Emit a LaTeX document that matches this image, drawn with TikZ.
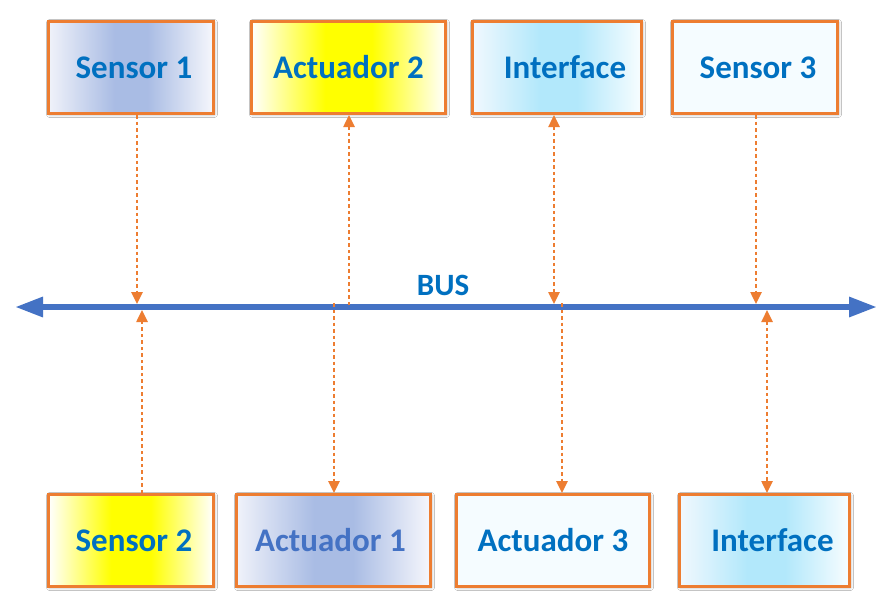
\documentclass[tikz,border=0pt]{standalone}
\usepackage{fontspec}
\setmainfont{Carlito}
\usetikzlibrary{arrows.meta,shadows.blur}

\definecolor{boxorange}{HTML}{ED7D31}
\definecolor{textblue}{HTML}{0070C0}
\definecolor{busblue}{HTML}{4472C4}
\definecolor{lavmid}{HTML}{A9BCE4}
\definecolor{lavedge}{HTML}{F0F2FA}
\definecolor{lavright}{HTML}{F6F7FC}
\definecolor{cyanmid}{HTML}{B2E8FB}
\definecolor{cyanedge}{HTML}{F1F8FE}
\definecolor{cyanright}{HTML}{F8FDFF}
\definecolor{paleblue}{HTML}{F5FCFF}
\definecolor{yelmid}{HTML}{FFFF00}

% horizontal fills with a broad coloured band in the middle;
% a node's box spans the central part of the shading, from 25bp to 75bp
\pgfdeclarehorizontalshading{lavband}{100bp}{color(0bp)=(lavedge); color(25bp)=(lavedge);
  color(45bp)=(lavmid); color(55bp)=(lavmid); color(75bp)=(lavright); color(100bp)=(lavright)}
\pgfdeclarehorizontalshading{yelband}{100bp}{color(0bp)=(white); color(25bp)=(white);
  color(44bp)=(yelmid); color(56bp)=(yelmid); color(75bp)=(white); color(100bp)=(white)}
\pgfdeclarehorizontalshading{cyanband}{100bp}{color(0bp)=(cyanedge); color(25bp)=(cyanedge);
  color(45bp)=(cyanmid); color(56bp)=(cyanmid); color(75bp)=(cyanright); color(100bp)=(cyanright)}

\tikzset{
  unit/.style={draw=boxorange, line width=3pt, minimum height=92pt,
    inner sep=0pt, text=textblue,
    font=\fontsize{33}{40}\selectfont\bfseries,
    blur shadow={shadow xshift=1pt, shadow yshift=-1pt, shadow blur steps=6,
      shadow blur radius=3pt, shadow opacity=35}},
  lavfill/.style={shading=lavband, shading angle=0},
  yelfill/.style={shading=yelband, shading angle=0},
  cyanfill/.style={shading=cyanband, shading angle=0},
  palefill/.style={fill=paleblue},
  link/.style={draw=boxorange, line width=2.5pt, dash pattern=on 3.5pt off 3pt},
  tip/.style={-{Triangle[length=12pt,width=11pt]}},
  twotip/.style={{Triangle[length=12pt,width=11pt]}-{Triangle[length=12pt,width=11pt]}},
  bus/.style={draw=busblue, line width=6pt,
    {Triangle[length=28pt,width=19pt]}-{Triangle[length=28pt,width=19pt]}},
  buslabel/.style={fill=white, inner sep=0pt, minimum width=98pt, minimum height=36pt,
    text=textblue, font=\fontsize{31}{36}\selectfont\bfseries}
}

\begin{document}
\begin{tikzpicture}[x=1pt,y=-1pt]
  \fill[white] (0,0) rectangle (882,603);
  \useasboundingbox (0,0) rectangle (882,603);

  % the shared bus
  \coordinate (busL) at (15,307);
  \coordinate (busR) at (877,307);
  \draw[bus] (busL) -- (busR);
  \node[buslabel] (buslab) at (443,285) {BUS};

  % devices above the bus
  \node[unit, lavfill, minimum width=165pt] (s1) at (131,67.5) {\hspace*{6pt}Sensor 1};
  \node[unit, yelfill, minimum width=194pt] (a2) at (348.5,67.5) {Actuador 2};
  \node[unit, cyanfill, minimum width=169pt] (if1) at (557,67.5) {\hspace*{16pt}Interface};
  \node[unit, palefill, minimum width=165pt] (s3) at (755,67.5) {\hspace*{6pt}Sensor 3};

  % devices below the bus
  \node[unit, yelfill, minimum width=165pt] (s2) at (131,540.5) {\hspace*{6pt}Sensor 2};
  \node[unit, lavfill, minimum width=194pt, text=busblue] (a1) at (333.5,540.5)
    {\hspace*{-6pt}Actuador 1};
  \node[unit, palefill, minimum width=193pt] (a3) at (553,540.5) {Actuador 3};
  \node[unit, cyanfill, minimum width=170pt] (if2) at (764.5,540.5) {\hspace*{16pt}Interface};

  % attachment points on the bus
  \coordinate (p1) at (137,304);
  \coordinate (p2) at (142,310);
  \coordinate (p3) at (349,305);
  \coordinate (p4) at (334,303);
  \coordinate (p5) at (554,304);
  \coordinate (p6) at (562,303);
  \coordinate (p7) at (756,304);
  \coordinate (p8) at (767,310);

  % links between devices and the bus
  \draw[link, tip] (s1.south -| p1) -- (p1);
  \draw[link, tip] (s2.north -| p2) -- (p2);
  \draw[link, tip] (p3) -- (a2.south -| p3);
  \draw[link, tip] (p4) -- (a1.north -| p4);
  \draw[link, twotip] (if1.south -| p5) -- (p5);
  \draw[link, tip] (p6) -- (a3.north -| p6);
  \draw[link, tip] (s3.south -| p7) -- (p7);
  \draw[link, twotip] (p8) -- (if2.north -| p8);
\end{tikzpicture}
\end{document}
